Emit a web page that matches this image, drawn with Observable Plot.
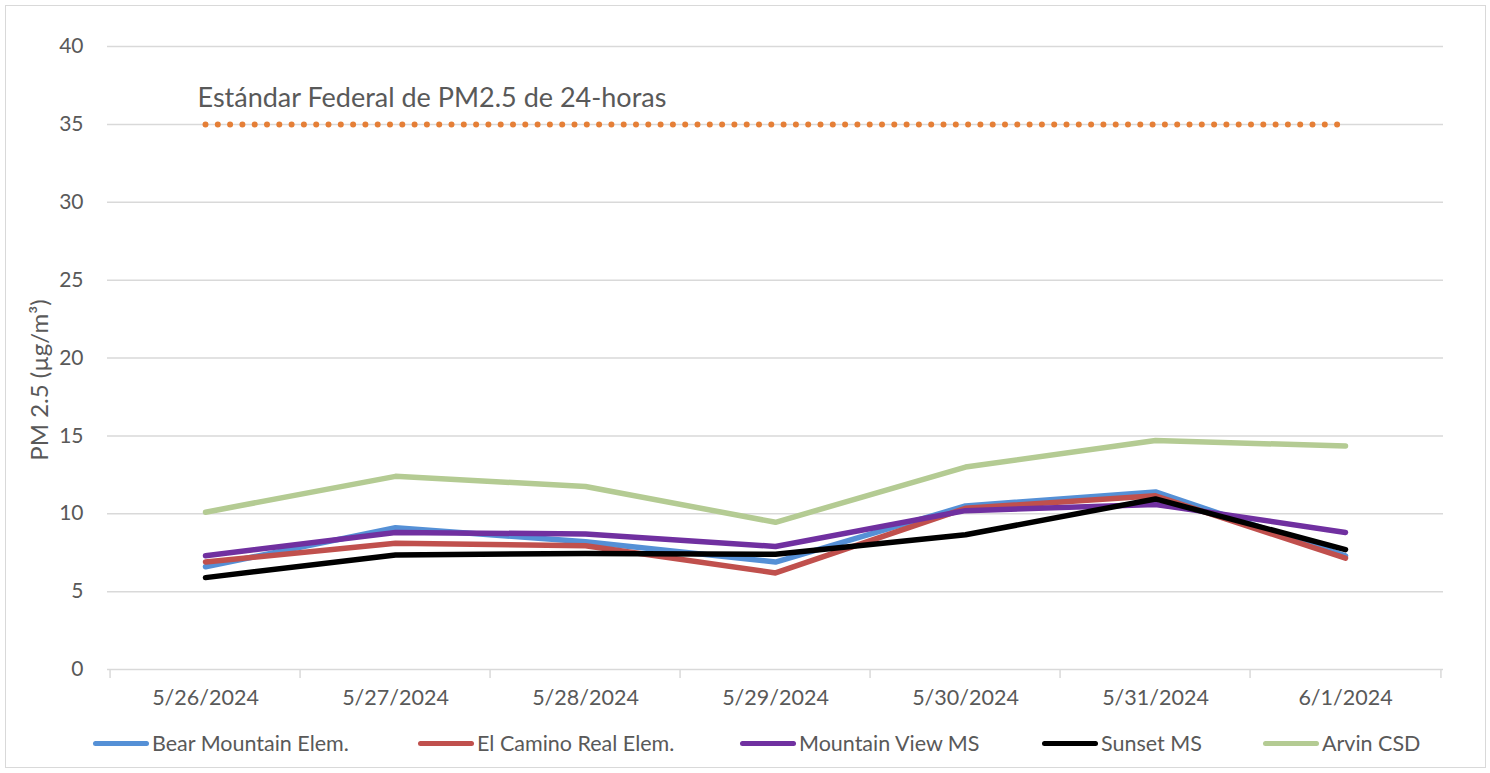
<!DOCTYPE html>
<html>
<head>
<meta charset="utf-8">
<script src="https://cdn.jsdelivr.net/npm/d3@7"></script>
<script src="https://cdn.jsdelivr.net/npm/@observablehq/plot@0.6"></script>
<style>
  html, body { margin: 0; padding: 0; background: #fff; }
  #wrap { position: relative; width: 1490px; height: 773px; overflow: hidden; font-family: Lato, "Open Sans", sans-serif; color: #595959; }
  #frame { position: absolute; left: 5px; top: 5px; width: 1479px; height: 761px; border: 1.5px solid #d9d9d9; pointer-events: none; }
  #chart { position: absolute; left: 0; top: 0; }
  #legend { position: absolute; left: 0; top: 728px; width: 1490px; height: 30px; font-size: 21.5px; white-space: nowrap; }
  .item { position: absolute; top: 0; display: flex; align-items: center; height: 30px; }
  .sw { width: 56px; height: 5px; border-radius: 3px; margin-right: 3px; }
</style>
</head>
<body>
<div id="wrap">
  <div id="chart"></div>
  <div id="legend"></div>
  <div id="frame"></div>
</div>
<script>
// ---- data ----
const dates = ["5/26/2024", "5/27/2024", "5/28/2024", "5/29/2024", "5/30/2024", "5/31/2024", "6/1/2024"];
const seriesNames = ["Bear Mountain Elem.", "El Camino Real Elem.", "Mountain View MS", "Sunset MS", "Arvin CSD"];
const bearMountain = [6.6, 9.1, 8.2, 6.9, 10.5, 11.4, 7.3];
const elCamino     = [6.9, 8.1, 7.95, 6.2, 10.35, 11.15, 7.15];
const mountainView = [7.3, 8.8, 8.7, 7.9, 10.2, 10.6, 8.8];
const sunset       = [5.9, 7.35, 7.45, 7.4, 8.65, 10.95, 7.7];
const arvin        = [10.1, 12.4, 11.75, 9.45, 13.0, 14.7, 14.35];
const seriesColors = ["#5590d6", "#c0504d", "#7030a0", "#000000", "#b4cb93"];
const yTicks = [0, 5, 10, 15, 20, 25, 30, 35, 40];
const standard = 35;
const standardLabel = "Estándar Federal de PM2.5 de 24-horas";
const yLabel = "PM 2.5 (µg/m³)";

// ---- build table ----
const seriesValues = [bearMountain, elCamino, mountainView, sunset, arvin];
const rows = [];
seriesNames.forEach((name, i) => {
  dates.forEach((d, j) => rows.push({series: name, date: d, value: seriesValues[i][j]}));
});
const standardRows = dates.map(d => ({date: d, value: standard}));

const W = 1490, H = 720, mL = 107, mR = 47, mT = 46, mB = 51;
const step = (W - mL - mR) / dates.length;

const chart = Plot.plot({
  width: W,
  height: H,
  marginLeft: mL,
  marginRight: mR,
  marginTop: mT,
  marginBottom: mB,
  style: {fontFamily: "Lato, 'Open Sans', sans-serif", fontSize: "21px", color: "#595959", background: "transparent"},
  x: {type: "band", domain: dates, padding: 0, label: null},
  y: {domain: [0, 40], label: null},
  color: {domain: seriesNames, range: seriesColors},
  marks: [
    Plot.ruleY(yTicks.filter(t => t > 0), {stroke: "#d9d9d9", strokeWidth: 1.5}),
    Plot.ruleY([0], {stroke: "#d9d9d9", strokeWidth: 1.5}),
    Plot.ruleX(dates, {x: d => d, dx: -step / 2, insetTop: H - mT - mB, insetBottom: -9, stroke: "#d9d9d9", strokeWidth: 1.5}),
    Plot.ruleX([dates[dates.length - 1]], {x: d => d, dx: step / 2, insetTop: H - mT - mB, insetBottom: -9, stroke: "#d9d9d9", strokeWidth: 1.5}),
    Plot.axisY(yTicks, {tickSize: 0, tickPadding: 24, fontSize: 21, fill: "#595959"}),
    Plot.axisX({tickSize: 0, tickPadding: 20, fontSize: 21.5, fill: "#595959"}),
    Plot.text([yLabel], {frameAnchor: "left", dx: -67, dy: 22, rotate: -90, textAnchor: "middle", fontSize: 24, fill: "#595959"}),
    Plot.line(standardRows, {x: "date", y: "value", stroke: "#e57f37", strokeWidth: 6, strokeDasharray: "0 12.3", strokeLinecap: "round"}),
    Plot.text([standardLabel], {x: () => dates[0], y: () => standard, dx: -8, dy: -26, textAnchor: "start", fontSize: 27, fill: "#595959"}),
    Plot.line(rows, {x: "date", y: "value", z: "series", stroke: "series", strokeWidth: 5.5, strokeLinejoin: "round", strokeLinecap: "round"})
  ]
});
document.getElementById("chart").appendChild(chart);

// ---- legend ----
const legendLefts = [93, 418, 740, 1042, 1263];
const legend = document.getElementById("legend");
seriesNames.forEach((name, i) => {
  const item = document.createElement("div");
  item.className = "item";
  item.style.left = legendLefts[i] + "px";
  const sw = document.createElement("div");
  sw.className = "sw";
  sw.style.background = seriesColors[i];
  const label = document.createElement("span");
  label.textContent = name;
  item.appendChild(sw);
  item.appendChild(label);
  legend.appendChild(item);
});
</script>
</body>
</html>
